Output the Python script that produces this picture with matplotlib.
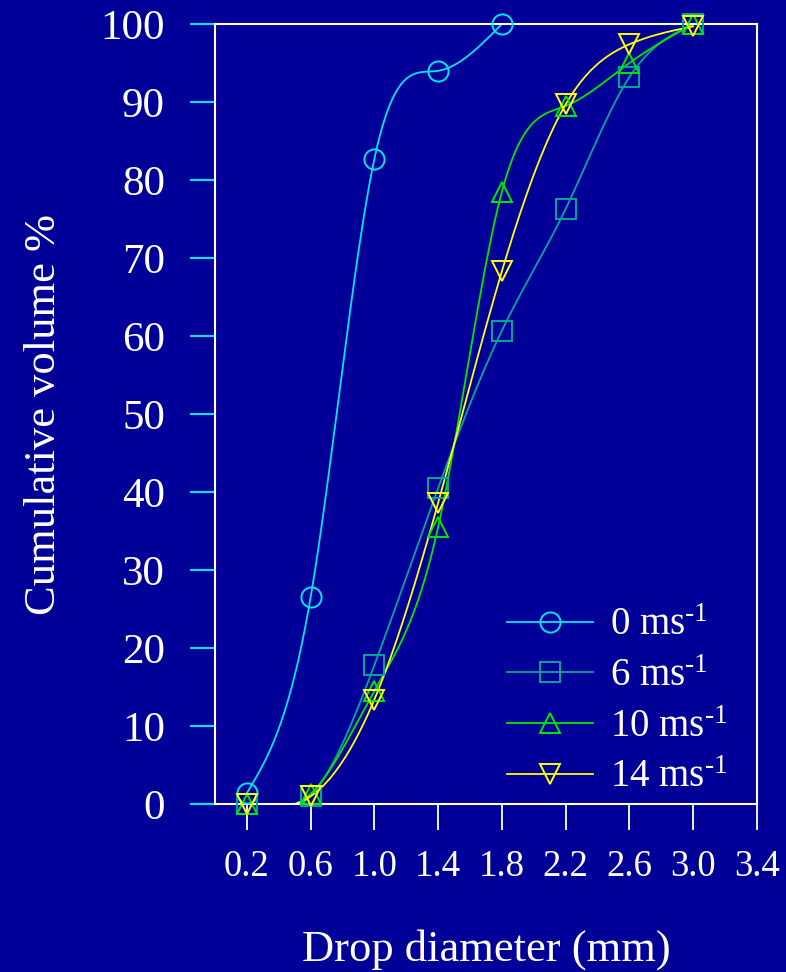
import matplotlib
matplotlib.use("Agg")
import matplotlib.pyplot as plt
import numpy as np

plt.rcParams['font.family'] = ['Liberation Serif', 'DejaVu Serif']
plt.rcParams['mathtext.fontset'] = 'custom'
plt.rcParams['mathtext.rm'] = 'Liberation Serif'
plt.rcParams['mathtext.it'] = 'Liberation Serif:italic'

# drop diameter (mm)
x_0 = [0.2, 0.6, 1.0, 1.4, 1.8]
x_all = [0.2, 0.6, 1.0, 1.4, 1.8, 2.2, 2.6, 3.0]

# cumulative volume % for each air speed
vol_0 = [1.4, 26.5, 82.7, 94.0, 100.0]
vol_6 = [0.0, 1.0, 17.8, 40.5, 60.7, 76.3, 93.2, 100.0]
vol_10 = [0.0, 1.3, 14.5, 35.5, 78.5, 89.5, 95.0, 100.0]
vol_14 = [0.0, 1.0, 13.4, 38.6, 68.3, 89.7, 97.4, 99.7]

labels = [r"0 ms$^{\text{-1}}$", r"6 ms$^{\text{-1}}$",
          r"10 ms$^{\text{-1}}$", r"14 ms$^{\text{-1}}$"]
xticks = [0.2, 0.6, 1.0, 1.4, 1.8, 2.2, 2.6, 3.0, 3.4]
yticks = [0, 10, 20, 30, 40, 50, 60, 70, 80, 90, 100]

bg = '#000099'
colors = ['#00e6f0', '#00a89c', '#00e800', '#ffff00']
markers = ['o', 's', '^', 'v']


def spline(x, y, n=300):
    # natural cubic spline, used only to draw the smoothed line
    x = np.asarray(x, float)
    y = np.asarray(y, float)
    m = len(x)
    h = np.diff(x)
    A = np.zeros((m, m))
    b = np.zeros(m)
    A[0, 0] = A[-1, -1] = 1
    for i in range(1, m - 1):
        A[i, i - 1] = h[i - 1]
        A[i, i] = 2 * (h[i - 1] + h[i])
        A[i, i + 1] = h[i]
        b[i] = 3 * ((y[i + 1] - y[i]) / h[i] - (y[i] - y[i - 1]) / h[i - 1])
    c = np.linalg.solve(A, b)
    bb = (y[1:] - y[:-1]) / h - h * (2 * c[:-1] + c[1:]) / 3
    d = (c[1:] - c[:-1]) / (3 * h)
    xs = np.linspace(x[0], x[-1], n)
    k = np.clip(np.searchsorted(x, xs) - 1, 0, m - 2)
    t = xs - x[k]
    ys = y[k] + bb[k] * t + c[k] * t ** 2 + d[k] * t ** 3
    return xs, ys


fig = plt.figure(figsize=(7.86, 9.72), dpi=100, facecolor=bg)
ax = fig.add_axes([0.2735, 0.1728, 0.6895, 0.8025])
ax.set_facecolor(bg)

series = [(x_0, vol_0), (x_all, vol_6), (x_all, vol_10), (x_all, vol_14)]
for (xs, ys), col, mk, lab in zip(series, colors, markers, labels):
    sx, sy = spline(xs, ys)
    ax.plot(sx, sy, color=col, lw=1.3, zorder=2)
    ax.plot(xs, ys, ls='none', marker=mk, ms=14.5, mfc='none', mec=col,
            mew=1.4, clip_on=False, zorder=3)
    ax.plot([], [], color=col, lw=1.3, marker=mk, ms=14.5, mfc='none',
            mec=col, mew=1.4, label=lab)

ax.set_xlim(0, 3.4)
ax.set_ylim(0, 100)
ax.set_xticks(xticks)
ax.set_xticklabels(["%.1f" % v for v in xticks])
ax.set_yticks(yticks)

for s in ax.spines.values():
    s.set_color('white')
    s.set_linewidth(1.5)

ax.tick_params(axis='x', direction='out', length=19, width=1.3,
               color='white', labelcolor='white', labelsize=26.5, pad=14)
ax.tick_params(axis='y', direction='out', length=18, width=1.5,
               color='#00e6f0', labelcolor='white', labelsize=31, pad=18)

ax.set_xlabel("Drop diameter (mm)", color='white', fontsize=32, labelpad=32)
ax.set_ylabel("Cumulative volume %", color='white', fontsize=32, labelpad=26)

leg = ax.legend(loc='lower right', bbox_to_anchor=(0.996, -0.025), frameon=False,
                fontsize=28, handlelength=2.2, handletextpad=0.45,
                labelspacing=0.35, borderaxespad=0.3)
for t in leg.get_texts():
    t.set_color('white')

fig.savefig("out.png", dpi=100, facecolor=bg)
